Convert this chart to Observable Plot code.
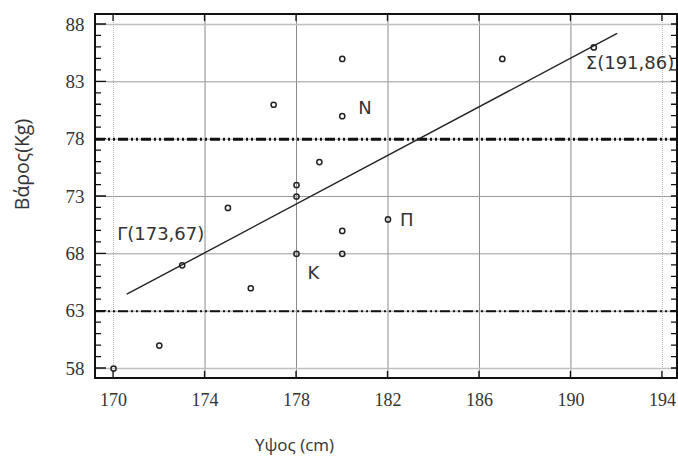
<!DOCTYPE html>
<html>
<head>
<meta charset="utf-8">
<script src="https://cdn.jsdelivr.net/npm/d3@7"></script>
<script src="https://cdn.jsdelivr.net/npm/@observablehq/plot@0.6"></script>
<style>
  html, body { margin: 0; padding: 0; background: #fff; }
  #chart svg { display: block; }
</style>
</head>
<body>
<div id="chart"></div>
<script>
// ---- data ----
const heights = [170, 172, 173, 175, 176, 177, 178, 178, 178, 179, 180, 180, 180, 180, 182, 187, 191];
const weights = [58, 60, 67, 72, 65, 81, 74, 73, 68, 76, 85, 80, 70, 68, 71, 85, 86];
const labelText = ["Γ(173,67)", "N", "K", "Π", "Σ(191,86)"];
const labelX = [173, 180, 178, 182, 191];
const labelY = [67, 80, 68, 71, 86];
const fitX = [170.6, 192];
const fitY = [64.5, 87.2];
const refLines = [78, 63];
const xTicks = [170, 174, 178, 182, 186, 190, 194];
const yTicks = [58, 63, 68, 73, 78, 83, 88];
const yMinor = [58,59,60,61,62,63,64,65,66,67,68,69,70,71,72,73,74,75,76,77,78,79,80,81,82,83,84,85,86,87,88];
const xTitle = "Υψος (cm)";
const yTitle = "Βάρος(Kg)";

// ---- layout ----
const W = 678, H = 457;
const mL = 95, mR = 1, mT = 14, mB = 79;

const points = heights.map((h, i) => ({x: h, y: weights[i]}));
const fit = fitX.map((x, i) => ({x, y: fitY[i]}));
const labels = labelText.map((t, i) => ({t, x: labelX[i], y: labelY[i]}));
const labelOffsets = [[-65, -31], [16, -8], [11, 19], [12, 1], [-8, 16]];

const innerX = xTicks.slice(1, -1), edgeX = [xTicks[0], xTicks[xTicks.length - 1]];
const innerY = yTicks.slice(1, -1), edgeY = [yTicks[0], yTicks[yTicks.length - 1]];

const serif = "Liberation Serif, serif";
const sans = "Open Sans, sans-serif";
const sans2 = "DejaVu Sans, sans-serif";

const chart = Plot.plot({
  width: W, height: H,
  marginLeft: mL, marginRight: mR, marginTop: mT, marginBottom: mB,
  x: {domain: [169.21, 194.66], axis: null},
  y: {domain: [57.13, 88.87], axis: null},
  style: {background: "#fff", overflow: "visible"},
  marks: [
    // grid
    Plot.ruleX(innerX, {x: d => d, stroke: "#8a8a8a", strokeWidth: 1}),
    Plot.ruleX(edgeX, {x: d => d, stroke: "#b5b5b5", strokeWidth: 1, strokeDasharray: "1,1"}),
    Plot.ruleY(innerY, {y: d => d, stroke: "#9a9a9a", strokeWidth: 1}),
    Plot.ruleY(edgeY, {y: d => d, stroke: "#c0c0c0", strokeWidth: 1.5}),
    // reference dash-dot-dot lines
    Plot.ruleY(refLines, {y: d => d, stroke: "#111", strokeWidth: (d, i) => i === 0 ? 3 : 2, strokeDasharray: "10,3,2,3,2,3"}),
    // regression line
    Plot.line(fit, {x: "x", y: "y", stroke: "#222", strokeWidth: 1.4}),
    // points
    Plot.dot(points, {x: "x", y: "y", r: 2.6, stroke: "#222", strokeWidth: 1.5, fill: "none"}),
    // point labels
    ...labels.map((d, i) => Plot.text([d], {
      x: "x", y: "y", text: "t",
      dx: labelOffsets[i][0], dy: labelOffsets[i][1], textAnchor: "start",
      fontSize: 18, fill: "#333", fontFamily: sans2
    })),
    // tick labels
    Plot.text(yTicks, {y: d => d, text: d => String(d), frameAnchor: "left", dx: -11, textAnchor: "end",
      fontSize: 19, fill: "#333", fontFamily: serif}),
    Plot.text(xTicks, {x: d => d, text: d => String(d), frameAnchor: "bottom", dy: 15, lineAnchor: "top",
      textAnchor: "middle", fontSize: 18, fill: "#333", fontFamily: serif}),
    // axis titles
    Plot.text([xTitle], {text: d => d, frameAnchor: "bottom-left", dx: 199, dy: 67, textAnchor: "middle",
      lineAnchor: "middle", fontSize: 17, fill: "#333", fontFamily: sans}),
    Plot.text([yTitle], {text: d => d, frameAnchor: "left", dx: -73, dy: -32, rotate: -90, textAnchor: "middle",
      lineAnchor: "middle", fontSize: 19.5, fill: "#333", fontFamily: sans})
  ]
});

// Frame and tick marks drawn as paths from Plot's own scales
const sx = chart.scale("x"), sy = chart.scale("y");
const [x0, x1] = sx.range, [yb, yt] = sy.range;
const L = Math.min(x0, x1), R = Math.max(x0, x1), B = Math.max(yb, yt), T = Math.min(yb, yt);
let ticks = "";
for (const v of yMinor) { const y = sy.apply(v); ticks += `M${L},${y}h6M${R},${y}h-6`; }
for (const v of yTicks) { const y = sy.apply(v); ticks += `M${L},${y}h11`; }
for (const v of xTicks) { const x = sx.apply(v); ticks += `M${x},${B}v-7M${x},${T}v7`; }
const g = d3.select(chart).append("g").attr("aria-label", "frame and ticks");
g.append("path").attr("d", ticks).attr("fill", "none").attr("stroke", "#111").attr("stroke-width", 1.3);
g.append("path").attr("d", `M${L},${T}H${R}V${B}H${L}Z`).attr("fill", "none").attr("stroke", "#111").attr("stroke-width", 2);

document.getElementById("chart").appendChild(chart);
</script>
</body>
</html>
